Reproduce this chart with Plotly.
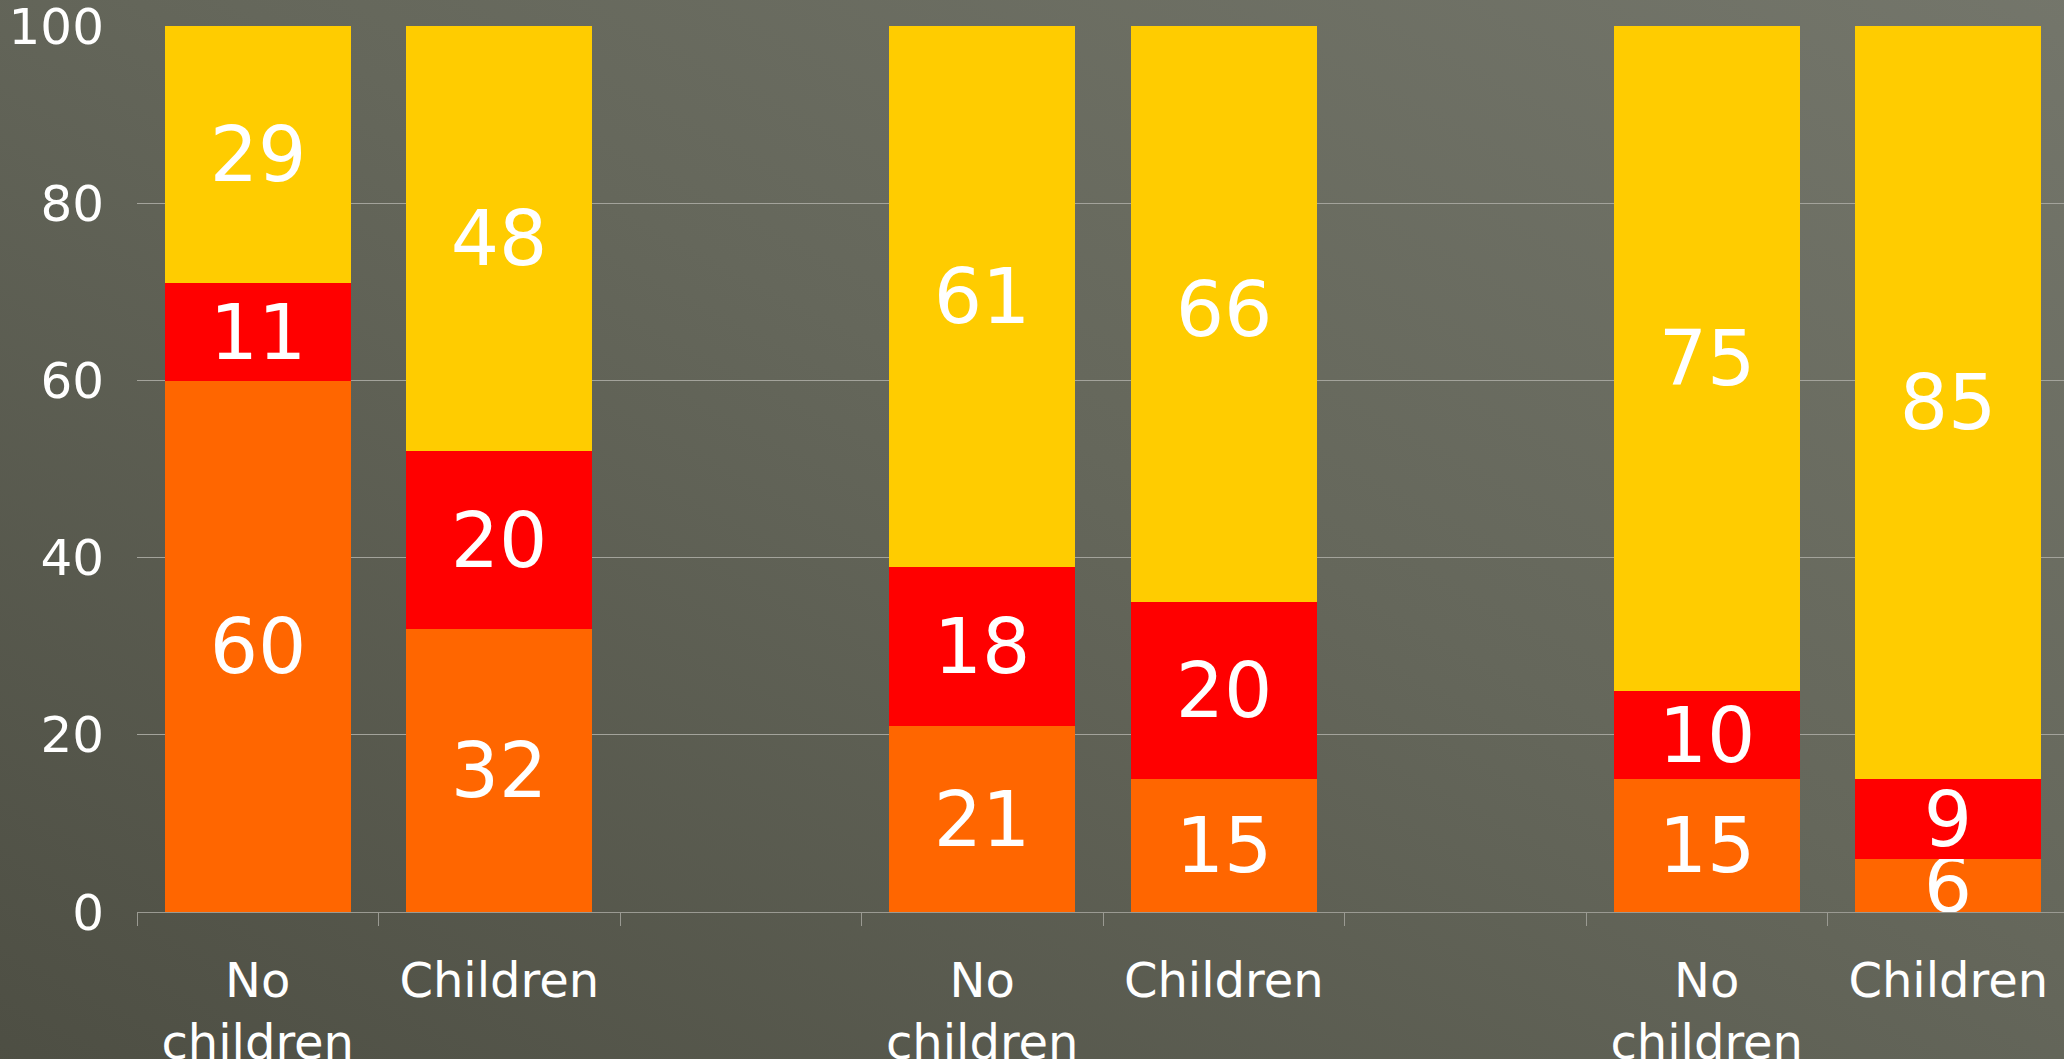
import base64
import plotly.graph_objects as go

# ---- data ----
groups = ["Group 1", "Group 2", "Group 3"]
categories = ["No<br>children", "Children"]
orange_vals = [60, 32, 21, 15, 15, 6]
red_vals = [11, 20, 18, 20, 10, 9]
yellow_vals = [29, 48, 61, 66, 75, 85]
y_ticks = [0, 20, 40, 60, 80, 100]

# ---- layout helpers ----
W, H = 2064, 1059
ML, MR, MT, MB = 137, 0, 26, 147
slots_per_group = len(categories) + 1
x_pos = [g * slots_per_group + i for g in range(len(groups)) for i in range(len(categories))]
x_text = [c for _ in groups for c in categories]

FONT = "DejaVu Sans"
series = [
    ("Orange", orange_vals, "#FF6600"),
    ("Red", red_vals, "#FF0000"),
    ("Yellow", yellow_vals, "#FFCC00"),
]

fig = go.Figure()
for name, vals, col in series:
    fig.add_trace(go.Bar(
        x=x_pos, y=vals, name=name,
        marker=dict(color=col, line=dict(width=0)),
        width=0.77,
        text=vals, texttemplate="%{text}",
        textposition="inside", insidetextanchor="middle", textangle=0,
        textfont=dict(family=FONT, size=76, color="white"),
        hoverinfo="skip", showlegend=False,
    ))

# background gradient as an inline SVG image
svg = (
    f'<svg xmlns="http://www.w3.org/2000/svg" width="{W}" height="{H}" preserveAspectRatio="none">'
    '<defs><linearGradient id="g" x1="0" y1="1" x2="1" y2="0">'
    '<stop offset="0" stop-color="#4d4e43"/>'
    '<stop offset="0.55" stop-color="#65675b"/>'
    '<stop offset="1" stop-color="#74766b"/>'
    '</linearGradient></defs>'
    f'<rect width="{W}" height="{H}" fill="url(#g)"/></svg>'
)
src = "data:image/svg+xml;base64," + base64.b64encode(svg.encode()).decode()
pw = W - ML - MR
ph = H - MT - MB
ext = 20  # overhang so the background covers the whole page

slot_px = 241.5
fig.update_layout(
    width=W, height=H,
    margin=dict(l=ML, r=MR, t=MT, b=MB, pad=0),
    paper_bgcolor="#5f6155",
    plot_bgcolor="rgba(0,0,0,0)",
    barmode="stack",
    bargap=0,
    uniformtext=dict(minsize=76, mode="show"),
    font=dict(family=FONT, color="white"),
    images=[dict(
        source=src, xref="paper", yref="paper",
        x=-(ML + ext) / pw, y=1 + (MT + ext) / ph,
        sizex=(W + 2 * ext) / pw, sizey=(H + 2 * ext) / ph,
        sizing="stretch", xanchor="left", yanchor="top", layer="below",
    )],
    xaxis=dict(
        range=[-0.5, -0.5 + pw / slot_px],
        tickvals=x_pos, ticktext=x_text,
        ticks="", showgrid=False, zeroline=False,
        showline=True, linecolor="#9a9a92", linewidth=1,
        tickfont=dict(family=FONT, size=48, color="white"),
        ticklabelstandoff=26,
        automargin=False,
        minor=dict(ticks="outside", ticklen=13, tickcolor="#9a9a92", tickwidth=1,
                   tick0=-0.5, dtick=1, showgrid=False),
    ),
    yaxis=dict(
        range=[0, 100.02], tickvals=y_ticks,
        ticks="", showgrid=True, gridcolor="#a3a39b", gridwidth=1,
        zeroline=False, showline=False,
        tickfont=dict(family=FONT, size=50, color="white"),
        ticklabelstandoff=32,
        ticklabeloverflow="allow",
        automargin=False,
    ),
)

fig.write_html(
    "out.html",
    config={"displayModeBar": False},
    post_script="document.body.style.margin='0';document.body.style.padding='0';"
                "document.body.style.overflow='hidden';",
)
